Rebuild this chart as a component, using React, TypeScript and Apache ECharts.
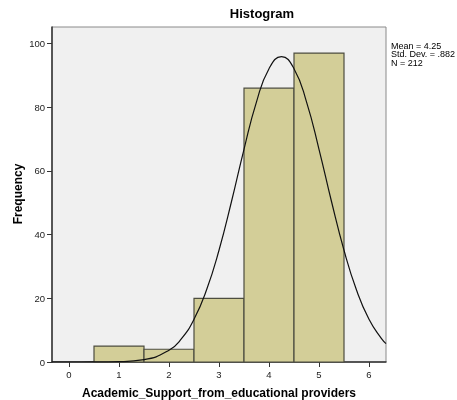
import React, { useEffect, useRef } from "react";
import * as echarts from "echarts";

const binStarts = [0.5, 1.5, 2.5, 3.5, 4.5];
const binEnds = [1.5, 2.5, 3.5, 4.5, 5.5];
const frequencies = [5, 4, 20, 86, 97];
const curveX = [-0.34, 0, 0.5, 1, 1.5, 2, 2.25, 2.5, 2.75, 3, 3.25, 3.5, 3.75, 4, 4.25, 4.5, 4.75, 5, 5.25, 5.5, 5.75, 6, 6.25, 6.34];
const curveY = [0.0, 0.001, 0.011, 0.108, 0.74, 3.7, 7.33, 13.4, 22.6, 35.1, 50.4, 66.8, 81.7, 92.1, 95.9, 92.1, 81.7, 66.8, 50.4, 35.1, 22.6, 13.4, 7.33, 5.78];
const xTicks = [0, 1, 2, 3, 4, 5, 6];
const yTicks = [0, 20, 40, 60, 80, 100];
const statsLines = ["Mean = 4.25", "Std. Dev. = .882", "N = 212"];

export default function App() {
  const ref = useRef<HTMLDivElement>(null);
  useEffect(() => {
    const chart = echarts.init(ref.current!, null, { renderer: "svg" });
    const font = "Arial, 'Liberation Sans', sans-serif";
    chart.setOption({
      animation: false,
      title: {
        text: "Histogram",
        left: 257,
        textAlign: "center",
        top: 2,
        textStyle: { fontSize: 13, fontWeight: "bold", color: "#000", fontFamily: font },
      },
      graphic: [
        {
          type: "text",
          left: 391,
          top: 41,
          style: {
            text: statsLines.join("\n"),
            fontSize: 9,
            lineHeight: 8.5,
            fill: "#000",
            fontFamily: font,
          },
        },
        {
          type: "text",
          x: 18,
          y: 194,
          rotation: Math.PI / 2,
          style: {
            text: "Frequency",
            fontSize: 12,
            fontWeight: "bold",
            fill: "#000",
            fontFamily: font,
            align: "center",
            verticalAlign: "middle",
          },
        },
      ],
      grid: {
        left: 52,
        right: 71,
        top: 27,
        bottom: 38,
        outerBoundsMode: "none",
        containLabel: false,
        show: true,
        backgroundColor: "#f0f0f0",
        borderColor: "#8a8a8a",
        borderWidth: 1,
      },
      xAxis: {
        type: "value",
        min: -0.34,
        max: 6.34,
        name: "Academic_Support_from_educational providers",
        nameLocation: "middle",
        nameGap: 25,
        nameTextStyle: { fontSize: 12, fontWeight: "bold", color: "#000", fontFamily: font },
        splitLine: { show: false },
        axisLine: { show: true, onZero: false, lineStyle: { color: "#333", width: 1.5 } },
        axisTick: { show: true, length: 5, customValues: xTicks, lineStyle: { color: "#333" } },
        axisLabel: { customValues: xTicks, fontSize: 9.5, color: "#222", margin: 7, fontFamily: font },
      },
      yAxis: {
        type: "value",
        min: 0,
        max: 105.2,
        splitLine: { show: false },
        axisLine: { show: true, onZero: false, lineStyle: { color: "#333", width: 1.5 } },
        axisTick: { show: true, length: 5, customValues: yTicks, lineStyle: { color: "#333" } },
        axisLabel: { customValues: yTicks, fontSize: 9.5, color: "#222", margin: 7, fontFamily: font },
      },
      series: [
        {
          type: "custom",
          renderItem: (params: any, api: any) => {
            const p0 = api.coord([api.value(0), api.value(2)]);
            const p1 = api.coord([api.value(1), 0]);
            return {
              type: "rect",
              shape: { x: p0[0], y: p0[1], width: p1[0] - p0[0], height: p1[1] - p0[1] },
              style: { fill: "#d3ce98", stroke: "#4d4d40", lineWidth: 1.2 },
            };
          },
          encode: { x: [0, 1], y: 2 },
          data: binStarts.map((s, i) => [s, binEnds[i], frequencies[i]]),
          z: 2,
        },
        {
          type: "line",
          data: curveX.map((x, i) => [x, curveY[i]]),
          smooth: true,
          showSymbol: false,
          lineStyle: { color: "#111", width: 1.2 },
          z: 3,
          clip: true,
        },
      ],
    });
    return () => chart.dispose();
  }, []);
  return <div ref={ref} style={{ position: "fixed", left: 0, top: 0, width: 457, height: 400 }} />;
}
